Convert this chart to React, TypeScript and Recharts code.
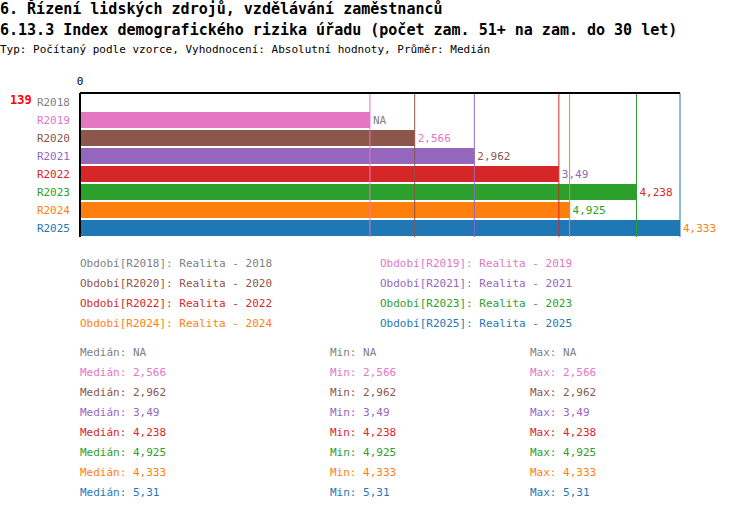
import React from 'react';
import { BarChart, Bar, XAxis, YAxis, Cell, LabelList, ReferenceLine } from 'recharts';

const categories = ['R2018', 'R2019', 'R2020', 'R2021', 'R2022', 'R2023', 'R2024', 'R2025'];
const values: (number | null)[] = [null, 2.566, 2.962, 3.49, 4.238, 4.925, 4.333, 5.31];
const COLORS = ['#7f7f7f', '#e377c2', '#8c564b', '#9467bd', '#d62728', '#2ca02c', '#ff7f0e', '#1f77b4'];
const FONT = '"DejaVu Sans Mono", monospace';

// NA is drawn as a zero-width bar so the label still shows
const data = categories.map((name, i) => ({ name, value: values[i] ?? 0 }));
const fmt = (v: number | null) => (v == null ? 'NA' : String(v).replace('.', ','));

const ValueLabel = (props: any) => {
  const { x, y, width, height, index } = props;
  const v = values[index];
  return (
    <text x={x + (width || 0) + 3} y={y + height / 2 + 4} fill={COLORS[index]} fontSize={11} fontFamily={FONT}>
      {fmt(v)}
    </text>
  );
};

const YTick = (props: any) => {
  const { x, y, payload, index } = props;
  return (
    <text x={x - 2} y={y + 4} textAnchor="end" fill={COLORS[index]} fontSize={11} fontFamily={FONT}>
      {payload.value}
    </text>
  );
};

const txt = (color: string): React.CSSProperties => ({ position: 'absolute', color, fontSize: 11, fontFamily: FONT, whiteSpace: 'pre' });

export default function App() {
  return (
    <div style={{ position: 'absolute', left: 0, top: 0, width: 750, height: 512, background: '#fff', fontFamily: FONT }}>
      <div style={{ position: 'absolute', left: 0, top: 0, fontSize: 15, fontWeight: 'bold', whiteSpace: 'pre' }}>6. Řízení lidských zdrojů, vzdělávání zaměstnanců</div>
      <div style={{ position: 'absolute', left: 0, top: 21, fontSize: 15, fontWeight: 'bold', whiteSpace: 'pre' }}>6.13.3 Index demografického rizika úřadu (počet zam. 51+ na zam. do 30 let)</div>
      <div style={{ position: 'absolute', left: 0, top: 43, fontSize: 11, whiteSpace: 'pre' }}>Typ: Počítaný podle vzorce, Vyhodnocení: Absolutní hodnoty, Průměr: Medián</div>
      <div style={{ position: 'absolute', left: 10, top: 93, fontSize: 12, fontWeight: 'bold', color: '#ff0000' }}>139</div>
      <div style={{ position: 'absolute', left: 0, top: 70 }}>
        <BarChart width={750} height={172} data={data} layout="vertical" margin={{ top: 18, right: 70, left: 0, bottom: 5 }} barCategoryGap={1}>
          <XAxis type="number" orientation="top" height={5} domain={[0, 5.31]} ticks={[0]} tickLine={false} axisLine={{ stroke: '#000', strokeWidth: 2 }} tick={{ fontSize: 11, fontFamily: FONT, fill: '#000' }} />
          <YAxis type="category" dataKey="name" width={80} interval={0} tickLine={false} axisLine={{ stroke: '#000', strokeWidth: 2 }} tick={<YTick />} />
          {values.map((v, i) => v != null && <ReferenceLine key={i} x={v} stroke={COLORS[i]} strokeWidth={1} />)}
          <Bar dataKey="value" isAnimationActive={false}>
            {data.map((_d, i) => <Cell key={i} fill={COLORS[i]} />)}
            <LabelList dataKey="value" content={<ValueLabel />} />
          </Bar>
        </BarChart>
      </div>
      {categories.map((c, i) => (
        <div key={c} style={{ ...txt(COLORS[i]), left: i % 2 === 0 ? 80 : 380, top: 257 + Math.floor(i / 2) * 20 }}>
          {`Období[${c}]: Realita - ${c.slice(1)}`}
        </div>
      ))}
      {categories.map((c, i) => (
        <React.Fragment key={c}>
          <div style={{ ...txt(COLORS[i]), left: 80, top: 346 + i * 20 }}>{`Medián: ${fmt(values[i])}`}</div>
          <div style={{ ...txt(COLORS[i]), left: 330, top: 346 + i * 20 }}>{`Min: ${fmt(values[i])}`}</div>
          <div style={{ ...txt(COLORS[i]), left: 530, top: 346 + i * 20 }}>{`Max: ${fmt(values[i])}`}</div>
        </React.Fragment>
      ))}
    </div>
  );
}
